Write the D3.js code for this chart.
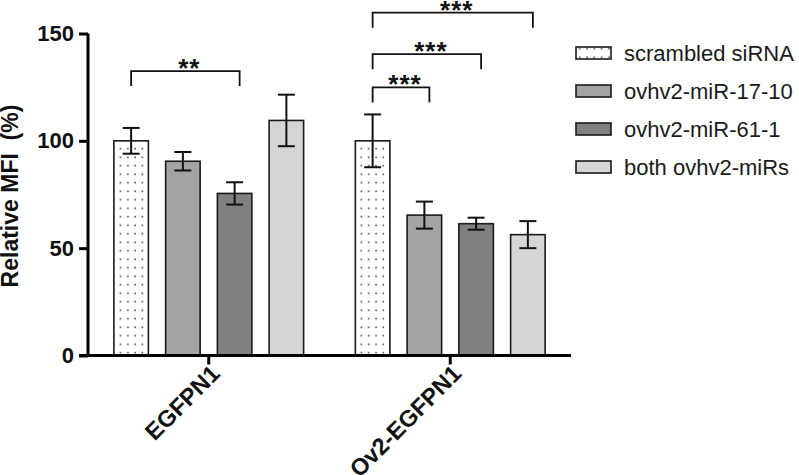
<!DOCTYPE html>
<html>
<head>
<meta charset="utf-8">
<script src="https://cdn.jsdelivr.net/npm/d3@7/dist/d3.min.js"></script>
<style>
  html, body { margin: 0; padding: 0; background: #fff; }
  svg { display: block; }
</style>
</head>
<body>
<svg id="chart" width="799" height="475"></svg>
<script>
// ---- Data ----
const groups = ["EGFPN1", "Ov2-EGFPN1"];
const seriesNames = ["scrambled siRNA", "ovhv2-miR-17-10", "ovhv2-miR-61-1", "both ovhv2-miRs"];
const egfpn1Means = [100, 90.5, 75.5, 109.5];
const egfpn1Errors = [6, 4.3, 5.2, 12];
const ov2Means = [100, 65.4, 61.4, 56.3];
const ov2Errors = [12.3, 6.3, 2.8, 6.3];
const yTicks = [0, 50, 100, 150];
const sigGroup = [0, 1, 1, 1];
const sigFrom = [0, 0, 0, 0];
const sigTo = [2, 1, 2, 3];
const sigLevel = [132.5, 124.9, 140.4, 159.7];
const sigLabels = ["**", "***", "***", "***"];

const means = [egfpn1Means, ov2Means];
const errors = [egfpn1Errors, ov2Errors];
const fills = ["url(#dots)", "#a4a4a4", "#808080", "#d5d5d5"];
const FONT = "Liberation Sans, Arial, sans-serif";

const svg = d3.select("#chart");
const defs = svg.append("defs");
const pat = defs.append("pattern").attr("id", "dots")
  .attr("patternUnits", "userSpaceOnUse")
  .attr("width", 7.3).attr("height", 8.5);
pat.append("rect").attr("width", 7.3).attr("height", 8.5).attr("fill", "#fff");
pat.append("rect").attr("x", 3).attr("y", 3.5).attr("width", 1.5).attr("height", 1.5).attr("fill", "#333");

const x0 = d3.scaleBand().domain(groups).range([88, 571]).paddingInner(0).paddingOuter(0);
const x1 = d3.scaleBand().domain(d3.range(seriesNames.length)).range([0, x0.bandwidth()])
  .paddingInner(1/3).paddingOuter(0.5);
const y = d3.scaleLinear().domain([0, 150]).range([355.5, 33.5]);

// bars
groups.forEach((g, gi) => {
  const gx = x0(g);
  const data = means[gi].map((m, i) => ({ i, m, e: errors[gi][i] }));
  const gg = svg.append("g");
  gg.selectAll("rect.bar").data(data).join("rect")
    .attr("class", "bar")
    .attr("x", d => gx + x1(d.i))
    .attr("y", d => y(d.m))
    .attr("width", x1.bandwidth())
    .attr("height", d => y(0) - y(d.m))
    .attr("fill", d => fills[d.i])
    .attr("stroke", "#1a1a1a").attr("stroke-width", 1.6);
  const cap = 8.5;
  data.forEach(d => {
    const cx = gx + x1(d.i) + x1.bandwidth() / 2;
    gg.append("line").attr("x1", cx).attr("x2", cx).attr("y1", y(d.m + d.e)).attr("y2", y(d.m - d.e))
      .attr("stroke", "#111").attr("stroke-width", 2);
    [d.m + d.e, d.m - d.e].forEach(v => {
      gg.append("line").attr("x1", cx - cap).attr("x2", cx + cap).attr("y1", y(v)).attr("y2", y(v))
        .attr("stroke", "#111").attr("stroke-width", 2);
    });
  });
});

// axes
const yAxis = d3.axisLeft(y).tickValues(yTicks).tickSize(9).tickPadding(5);
const ya = svg.append("g").attr("transform", "translate(88,0)").call(yAxis);
ya.select(".domain").attr("stroke", "#000").attr("stroke-width", 3).attr("d", `M0,${y(150)}V${y(0)}`);
ya.selectAll(".tick line").attr("stroke", "#000").attr("stroke-width", 3);
ya.selectAll(".tick text").attr("font-family", FONT)
  .attr("font-weight", "bold").attr("font-size", 22).attr("fill", "#111");

const xAxis = d3.axisBottom(x0).tickSize(9).tickPadding(6);
const xa = svg.append("g").attr("transform", `translate(0,${y(0)})`).call(xAxis);
xa.select(".domain").attr("stroke", "#000").attr("stroke-width", 3).attr("d", "M79,0H571");
xa.selectAll(".tick line").attr("stroke", "#000").attr("stroke-width", 3);
xa.selectAll(".tick text").attr("font-family", FONT)
  .attr("font-weight", "bold").attr("font-size", 23.5).attr("fill", "#111")
  .attr("text-anchor", "end").attr("dy", null)
  .attr("transform", "translate(2,9) rotate(-45)");

// y label
svg.append("text")
  .attr("transform", "translate(18,196) rotate(-90)")
  .attr("text-anchor", "middle")
  .attr("font-family", FONT)
  .attr("font-weight", "bold").attr("font-size", 23).attr("fill", "#111")
  .attr("xml:space", "preserve")
  .text("Relative MFI  (%)");

// significance brackets
sigLabels.forEach((lab, k) => {
  const gx = x0(groups[sigGroup[k]]);
  const xa1 = gx + x1(sigFrom[k]) + x1.bandwidth() / 2;
  const xa2 = gx + x1(sigTo[k]) + x1.bandwidth() / 2 + 5;
  const yt = y(sigLevel[k]);
  const drop = y(sigLevel[k] - 7) - yt;
  svg.append("path")
    .attr("d", `M${xa1},${yt + drop}V${yt}H${xa2}V${yt + drop}`)
    .attr("fill", "none").attr("stroke", "#111").attr("stroke-width", 1.8);
  svg.append("text")
    .attr("x", (xa1 + xa2) / 2 + 4).attr("y", yt + 6)
    .attr("text-anchor", "middle")
    .attr("font-family", FONT)
    .attr("font-weight", "bold").attr("font-size", 26).attr("fill", "#111")
    .attr("letter-spacing", 1)
    .text(lab);
});

// legend
const leg = svg.append("g").attr("transform", "translate(576,53)");
seriesNames.forEach((s, i) => {
  const row = leg.append("g").attr("transform", `translate(0,${i * 38})`);
  row.append("rect").attr("x", 0).attr("y", -6).attr("width", 35).attr("height", 12)
    .attr("fill", fills[i]).attr("stroke", "#1a1a1a").attr("stroke-width", 1.6);
  row.append("text").attr("x", 48).attr("y", 0).attr("dy", "0.36em")
    .attr("font-family", FONT)
    .attr("font-size", 22).attr("fill", "#1a1a1a")
    .text(s);
});
</script>
</body>
</html>
